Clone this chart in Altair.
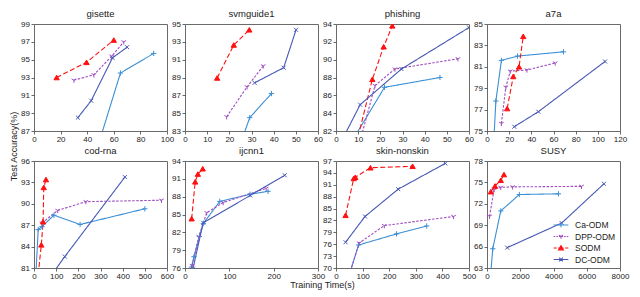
import altair as alt
import pandas as pd

SERIES = ["Ca-ODM", "DPP-ODM", "SODM", "DC-ODM"]
COLORS = ["#3b8fd4", "#a04cc0", "#ff1010", "#4658b4"]
DASHES = [[1, 0], [2.5, 1.5], [5, 2.5], [1, 0]]
WIDTHS = [1.1, 1.1, 2.0, 1.0]
MARKERS = ["M-1,0L1,0M0,-1L0,1",
           "M0,0L0,1M0,0L-0.87,-0.5M0,0L0.87,-0.5",
           "triangle-up",
           "M-0.75,-0.75L0.75,0.75M-0.75,0.75L0.75,-0.75"]
LEGEND_SYMBOLS = [
    "M-1.4,0L1.4,0M-0.45,0L0.45,0M0,-0.45L0,0.45",
    "M-1.4,0L-1.1,0M-0.9,0L-0.6,0M-0.4,0L-0.1,0M0.1,0L0.4,0M0.6,0L0.9,0M1.1,0L1.4,0"
    "M0,0L0,0.45M0,0L-0.39,-0.22M0,0L0.39,-0.22",
    "M-1.4,0L-0.8,0M-0.5,0L0.5,0M0.8,0L1.4,0M-0.45,0.35L0,-0.45L0.45,0.35Z",
    "M-1.4,0L1.4,0M-0.35,-0.35L0.35,0.35M-0.35,0.35L0.35,-0.35",
]

TITLES = ["gisette", "svmguide1", "phishing", "a7a",
          "cod-rna", "ijcnn1", "skin-nonskin", "SUSY"]
X_DOMAINS = [[0, 100], [0, 60], [0, 60], [0, 120],
             [0, 600], [0, 300], [0, 500], [0, 8000]]
X_TICKS = [[0, 20, 40, 60, 80, 100], [0, 10, 20, 30, 40, 50, 60],
           [0, 10, 20, 30, 40, 50, 60], [0, 20, 40, 60, 80, 100, 120],
           [0, 100, 200, 300, 400, 500, 600], [0, 100, 200, 300],
           [0, 100, 200, 300, 400, 500], [0, 2000, 4000, 6000, 8000]]
Y_DOMAINS = [[87, 99], [83, 95], [82, 94], [75, 85],
             [81, 96], [76, 94], [70, 97], [63, 78]]
Y_TICKS = [[87, 89, 91, 93, 95, 97, 99], [83, 85, 87, 89, 91, 93, 95],
           [82, 84, 86, 88, 90, 92, 94], [75, 77, 79, 81, 83, 85],
           [81, 84, 87, 90, 93, 96], [76, 79, 82, 85, 88, 91, 94],
           [70, 73, 76, 79, 82, 85, 88, 91, 94, 97], [63, 66, 69, 72, 75, 78]]

# gisette
gis_ca_x = [47, 65, 90]
gis_ca_y = [84.8, 93.5, 95.7]
gis_dpp_x = [30, 45, 58.5, 67.5]
gis_dpp_y = [92.7, 93.3, 95.4, 97.0]
gis_sodm_x = [17, 39.5, 60]
gis_sodm_y = [93.0, 94.7, 97.2]
gis_dc_x = [33, 43, 59, 70]
gis_dc_y = [88.5, 90.4, 95.2, 96.4]
# svmguide1
svm_ca_x = [25.5, 29.2, 39]
svm_ca_y = [81.9, 84.5, 87.2]
svm_dpp_x = [18.8, 28, 35.3]
svm_dpp_y = [84.6, 87.95, 90.3]
svm_sodm_x = [14.5, 22, 29]
svm_sodm_y = [88.95, 92.65, 94.35]
svm_dc_x = [31.4, 44.5, 50.1]
svm_dc_y = [88.4, 90.1, 94.35]
# phishing
phi_ca_x = [9, 21.9, 46.9]
phi_ca_y = [81.6, 86.9, 88.0]
phi_dpp_x = [11, 17.6, 26.6, 55]
phi_dpp_y = [81.0, 87.1, 88.95, 90.1]
phi_sodm_x = [10, 16.4, 21.5, 25.4]
phi_sodm_y = [81.4, 87.8, 91.45, 93.8]
phi_dc_x = [4, 10.9, 29.5, 60]
phi_dc_y = [81.6, 84.95, 88.95, 93.6]
# a7a
a7a_ca_x = [5.5, 8, 13, 27.5, 69]
a7a_ca_y = [72.8, 77.8, 81.6, 82.0, 82.4]
a7a_dpp_x = [13, 17, 21, 36, 61.5]
a7a_dpp_y = [75.7, 79.1, 80.6, 80.7, 81.35]
a7a_sodm_x = [18.2, 23.7, 28.9, 32.7]
a7a_sodm_y = [77.1, 80.1, 81.0, 83.85]
a7a_dc_x = [24.6, 46.3, 106.5]
a7a_dc_y = [75.4, 76.8, 81.5]
# cod-rna
cod_ca_x = [8, 19, 36, 90, 208, 500]
cod_ca_y = [79.8, 86.4, 86.8, 88.4, 87.1, 89.3]
cod_dpp_x = [36, 107, 234, 575]
cod_dpp_y = [87.3, 89.07, 90.3, 90.5]
cod_sodm_x = [19, 33, 41, 44, 54]
cod_sodm_y = [80.1, 84.25, 87.5, 92.3, 93.4]
cod_dc_x = [60, 139, 410]
cod_dc_y = [79.2, 82.6, 93.75]
# ijcnn1
ijc_ca_x = [14.5, 20.3, 32.7, 41.4, 78.4, 146.7, 187.4]
ijc_ca_y = [76.15, 77.9, 81.3, 83.5, 87.2, 88.4, 88.9]
ijc_dpp_x = [16, 31, 49, 86, 183]
ijc_dpp_y = [76.4, 81.3, 85.3, 87.0, 89.4]
ijc_sodm_x = [15, 23, 29, 40]
ijc_sodm_y = [84.3, 90.5, 91.8, 92.7]
ijc_dc_x = [18, 41, 147, 225]
ijc_dc_y = [75.9, 83.6, 88.2, 91.6]
# skin-nonskin
skn_ca_x = [50, 84.7, 227.6, 341]
skn_ca_y = [68.3, 75.8, 78.6, 80.6]
skn_dpp_x = [50, 87, 181.6, 442]
skn_dpp_y = [68.3, 76.3, 80.7, 83.0]
skn_sodm_x = [36, 66.6, 72.6, 129.5, 288]
skn_sodm_y = [83.3, 92.6, 92.9, 95.3, 95.67]
skn_dc_x = [36, 109, 234, 411]
skn_dc_y = [76.5, 83.0, 89.9, 96.4]
# SUSY
sus_ca_x = [200, 347, 829, 1946, 4297]
sus_ca_y = [61.6, 65.7, 71.0, 73.3, 73.4]
sus_dpp_x = [154, 424, 829, 1542, 5685]
sus_dpp_y = [70.25, 74.0, 74.3, 74.37, 74.45]
sus_sodm_x = [231, 482, 829, 1021]
sus_sodm_y = [73.7, 74.5, 75.3, 76.1]
sus_dc_x = [1214, 4490, 7033]
sus_dc_y = [65.85, 69.3, 74.8]

DATA = [
    [(gis_ca_x, gis_ca_y), (gis_dpp_x, gis_dpp_y), (gis_sodm_x, gis_sodm_y), (gis_dc_x, gis_dc_y)],
    [(svm_ca_x, svm_ca_y), (svm_dpp_x, svm_dpp_y), (svm_sodm_x, svm_sodm_y), (svm_dc_x, svm_dc_y)],
    [(phi_ca_x, phi_ca_y), (phi_dpp_x, phi_dpp_y), (phi_sodm_x, phi_sodm_y), (phi_dc_x, phi_dc_y)],
    [(a7a_ca_x, a7a_ca_y), (a7a_dpp_x, a7a_dpp_y), (a7a_sodm_x, a7a_sodm_y), (a7a_dc_x, a7a_dc_y)],
    [(cod_ca_x, cod_ca_y), (cod_dpp_x, cod_dpp_y), (cod_sodm_x, cod_sodm_y), (cod_dc_x, cod_dc_y)],
    [(ijc_ca_x, ijc_ca_y), (ijc_dpp_x, ijc_dpp_y), (ijc_sodm_x, ijc_sodm_y), (ijc_dc_x, ijc_dc_y)],
    [(skn_ca_x, skn_ca_y), (skn_dpp_x, skn_dpp_y), (skn_sodm_x, skn_sodm_y), (skn_dc_x, skn_dc_y)],
    [(sus_ca_x, sus_ca_y), (sus_dpp_x, sus_dpp_y), (sus_sodm_x, sus_sodm_y), (sus_dc_x, sus_dc_y)],
]

W, H = 133, 107
ROW_GAP = 30
FONT = "Liberation Sans"


def sc(rng):
    return alt.Scale(domain=SERIES, range=rng)


def make_panel(k):
    rows = []
    for s, (xs, ys) in zip(SERIES, DATA[k]):
        for i, (xv, yv) in enumerate(zip(xs, ys)):
            rows.append({"s": s, "t": xv, "a": yv, "i": i})
    df = pd.DataFrame(rows)

    xs_ = alt.Scale(domain=X_DOMAINS[k], nice=False, zero=False)
    ys_ = alt.Scale(domain=Y_DOMAINS[k], nice=False, zero=False)
    if k == 5:
        x_axis = alt.Axis(values=X_TICKS[k], format="d", labelFlush=False,
                          labelOverlap=False, titleX=W + 4, titleY=12,
                          titleAlign="center", titleBaseline="top")
        x_enc = alt.X("t:Q", title="Training Time(s)", scale=xs_, axis=x_axis)
    else:
        x_enc = alt.X("t:Q", title=None, scale=xs_,
                      axis=alt.Axis(values=X_TICKS[k], format="d",
                                    labelFlush=False, labelOverlap=False))
    if k == 0:
        y_axis = alt.Axis(values=Y_TICKS[k], format="d", labelFlush=False,
                          labelOverlap=False, titleX=-21, titleY=H + ROW_GAP / 2,
                          titleAngle=270, titleAlign="center",
                          titleBaseline="middle")
        y_enc = alt.Y("a:Q", title="Test Accuracy(%)", scale=ys_, axis=y_axis)
    else:
        y_enc = alt.Y("a:Q", title=None, scale=ys_,
                      axis=alt.Axis(values=Y_TICKS[k], format="d",
                                    labelFlush=False, labelOverlap=False))

    base = alt.Chart(df)
    lines = base.mark_line(clip=True).encode(
        x=x_enc, y=y_enc,
        color=alt.Color("s:N", scale=sc(COLORS), legend=None),
        strokeDash=alt.StrokeDash("s:N", scale=sc(DASHES), legend=None),
        strokeWidth=alt.StrokeWidth("s:N", scale=sc(WIDTHS), legend=None),
        order="i:Q",
    )
    points = base.mark_point(clip=True, filled=True, opacity=1, size=28,
                             strokeWidth=1).encode(
        x=x_enc, y=y_enc,
        color=alt.Color("s:N", scale=sc(COLORS), legend=None),
        stroke=alt.Stroke("s:N", scale=sc(COLORS), legend=None),
        shape=alt.Shape("s:N", scale=sc(MARKERS), legend=None),
    )
    layers = [lines, points]
    if k == 7:
        leg = alt.Legend(orient="bottom-right", title=None, symbolSize=110,
                         symbolStrokeWidth=1.1, labelFontSize=8.5, labelFont=FONT,
                         labelColor="#222", labelOffset=8, rowPadding=0.5,
                         offset=4, padding=0, symbolOpacity=1)
        ldf = pd.DataFrame({"s": SERIES, "t": [-1e6] * 4, "a": [0] * 4})
        legend_layer = alt.Chart(ldf).mark_point(clip=True, filled=True, opacity=1,
                                                 size=110, strokeWidth=1.1).encode(
            x=x_enc, y=y_enc,
            color=alt.Color("s:N", scale=sc(COLORS), legend=leg),
            stroke=alt.Stroke("s:N", scale=sc(COLORS), legend=leg),
            shape=alt.Shape("s:N", scale=sc(LEGEND_SYMBOLS), legend=leg),
        )
        layers.append(legend_layer)
        ch = alt.layer(*layers).resolve_scale(
            color="independent", stroke="independent", shape="independent",
            strokeDash="independent", strokeWidth="independent")
    else:
        ch = alt.layer(*layers)
    return ch.properties(width=W, height=H, title=TITLES[k])


panels = [make_panel(k) for k in range(8)]

chart = alt.concat(
    *panels, columns=4, spacing={"row": ROW_GAP, "column": 18}, bounds="flush"
).resolve_scale(
    color="independent", stroke="independent", shape="independent",
    strokeDash="independent", strokeWidth="independent"
).properties(
    padding=0
).configure_view(
    stroke="#6a6a6a", strokeWidth=1
).configure_axis(
    domain=False, grid=False, tickColor="#444", tickSize=3, tickWidth=0.8,
    labelFontSize=8, labelFont=FONT, labelColor="#222", labelPadding=1.5,
    titleFont=FONT, titleFontSize=9, titleFontWeight="normal", titleColor="#222"
).configure_title(
    font=FONT, fontSize=9.5, fontWeight="normal", color="#222", offset=2,
    anchor="middle"
)

chart.save("out.html", embed_options={"renderer": "svg", "actions": False})
